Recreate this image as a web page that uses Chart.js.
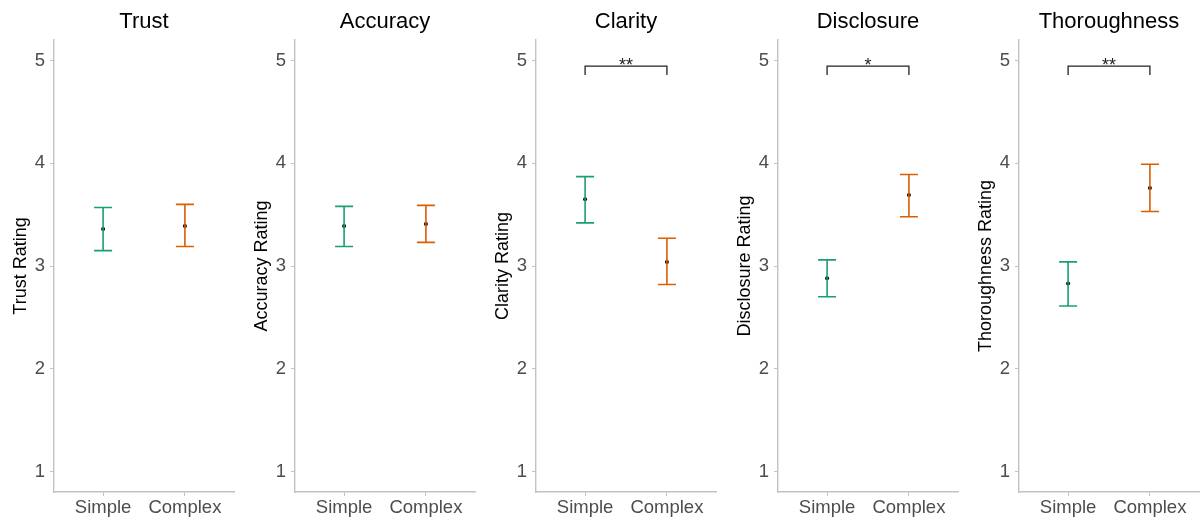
<!DOCTYPE html>
<html lang="en">
<head>
    <meta charset="UTF-8">
    <title>Ratings by Explanation Type</title>
    <script src="https://cdn.jsdelivr.net/npm/chart.js"></script>
    <style>
        body {
            margin: 0;
            background: #ffffff;
            width: 1202px;
            height: 523px;
            overflow: hidden;
            position: relative;
        }
        .panel {
            position: absolute;
            top: 0;
            width: 241px;
            height: 523px;
        }
    </style>
</head>
<body>
    <div class="panel" style="left:0px"><canvas id="c0" width="241" height="523"></canvas></div>
    <div class="panel" style="left:241px"><canvas id="c1" width="241" height="523"></canvas></div>
    <div class="panel" style="left:482px"><canvas id="c2" width="241" height="523"></canvas></div>
    <div class="panel" style="left:724px"><canvas id="c3" width="241" height="523"></canvas></div>
    <div class="panel" style="left:965px"><canvas id="c4" width="241" height="523"></canvas></div>

    <script>
        // data
        const categories = ["Simple", "Complex"];
        const measures = ["Trust", "Accuracy", "Clarity", "Disclosure", "Thoroughness"];
        const yTicks = [1, 2, 3, 4, 5];

        const simpleMean = [3.36, 3.39, 3.65, 2.88, 2.83];
        const simpleLow = [3.15, 3.19, 3.42, 2.70, 2.61];
        const simpleHigh = [3.57, 3.58, 3.87, 3.06, 3.04];

        const complexMean = [3.39, 3.41, 3.04, 3.69, 3.76];
        const complexLow = [3.19, 3.23, 2.82, 3.48, 3.53];
        const complexHigh = [3.60, 3.59, 3.27, 3.89, 3.99];

        const sigLabels = ["", "", "**", "*", "**"];
        const bracketTop = 4.945;
        const bracketEnd = 4.86;

        const GREEN = "#1b9e77";
        const ORANGE = "#d95f02";
        const AXIS = "#c2c2c2";
        const FONT = "'Liberation Sans', Arial, sans-serif";
        const CAP = 0.11;

        function errorBar(x, lo, hi) {
            return [
                { x: x - CAP, y: hi }, { x: x + CAP, y: hi }, { x: x, y: null },
                { x: x, y: hi }, { x: x, y: lo }, { x: x, y: null },
                { x: x - CAP, y: lo }, { x: x + CAP, y: lo }
            ];
        }

        // panel title + significance stars
        const panelText = {
            id: "panelText",
            afterDraw(chart, args, opts) {
                const ctx = chart.ctx;
                const area = chart.chartArea;
                ctx.save();
                ctx.fillStyle = "#000";
                ctx.textAlign = "center";
                ctx.textBaseline = "alphabetic";
                ctx.font = "22px " + FONT;
                ctx.fillText(opts.title, (area.left + area.right) / 2, 28);
                if (opts.sig) {
                    const xs = chart.scales.x, ys = chart.scales.y;
                    ctx.font = "18px " + FONT;
                    ctx.fillStyle = "#222";
                    ctx.fillText(opts.sig, xs.getPixelForValue(1.5), ys.getPixelForValue(bracketTop) + 5);
                }
                ctx.restore();
            }
        };

        measures.forEach((m, i) => {
            const datasets = [
                {
                    data: errorBar(1, simpleLow[i], simpleHigh[i]),
                    showLine: true, spanGaps: false, borderColor: GREEN, borderWidth: 1.6,
                    pointRadius: 0
                },
                {
                    data: errorBar(2, complexLow[i], complexHigh[i]),
                    showLine: true, spanGaps: false, borderColor: ORANGE, borderWidth: 1.6,
                    pointRadius: 0
                },
                {
                    data: [{ x: 1, y: simpleMean[i] }, { x: 2, y: complexMean[i] }],
                    pointRadius: 2, pointBackgroundColor: "#000", pointBorderWidth: 0
                }
            ];
            if (sigLabels[i]) {
                datasets.push({
                    data: [{ x: 1, y: bracketEnd }, { x: 1, y: bracketTop }, { x: 2, y: bracketTop }, { x: 2, y: bracketEnd }],
                    showLine: true, borderColor: "#222", borderWidth: 1.3, pointRadius: 0
                });
            }

            new Chart(document.getElementById("c" + i), {
                type: "scatter",
                data: { datasets },
                plugins: [panelText],
                options: {
                    responsive: false,
                    animation: false,
                    layout: { padding: { top: 40, right: 7, left: 0, bottom: 0 } },
                    plugins: {
                        legend: { display: false },
                        tooltip: { enabled: false },
                        panelText: { title: m, sig: sigLabels[i] }
                    },
                    scales: {
                        x: {
                            type: "linear",
                            min: 0.4,
                            max: 2.6,
                            afterBuildTicks: s => { s.ticks = [{ value: 1 }, { value: 2 }]; },
                            afterFit: s => { s.height = 31; },
                            ticks: {
                                callback: v => categories[v - 1],
                                font: { size: 18.5, family: FONT },
                                color: "#4d4d4d",
                                padding: 1,
                                maxRotation: 0
                            },
                            grid: { drawOnChartArea: false, tickLength: 4, color: AXIS },
                            border: { color: AXIS, width: 1.4 }
                        },
                        y: {
                            min: 0.8,
                            max: 5.2,
                            afterBuildTicks: s => { s.ticks = yTicks.map(v => ({ value: v })); },
                            afterFit: s => { s.width = 54; },
                            ticks: {
                                font: { size: 18.5, family: FONT },
                                color: "#4d4d4d",
                                padding: 5
                            },
                            grid: { drawOnChartArea: false, tickLength: 4, color: AXIS },
                            border: { color: AXIS, width: 1.4 },
                            title: {
                                display: true,
                                text: m + " Rating",
                                color: "#000",
                                font: { size: 18, family: FONT },
                                padding: { top: 10, bottom: 0 }
                            }
                        }
                    }
                }
            });
        });
    </script>
</body>
</html>
